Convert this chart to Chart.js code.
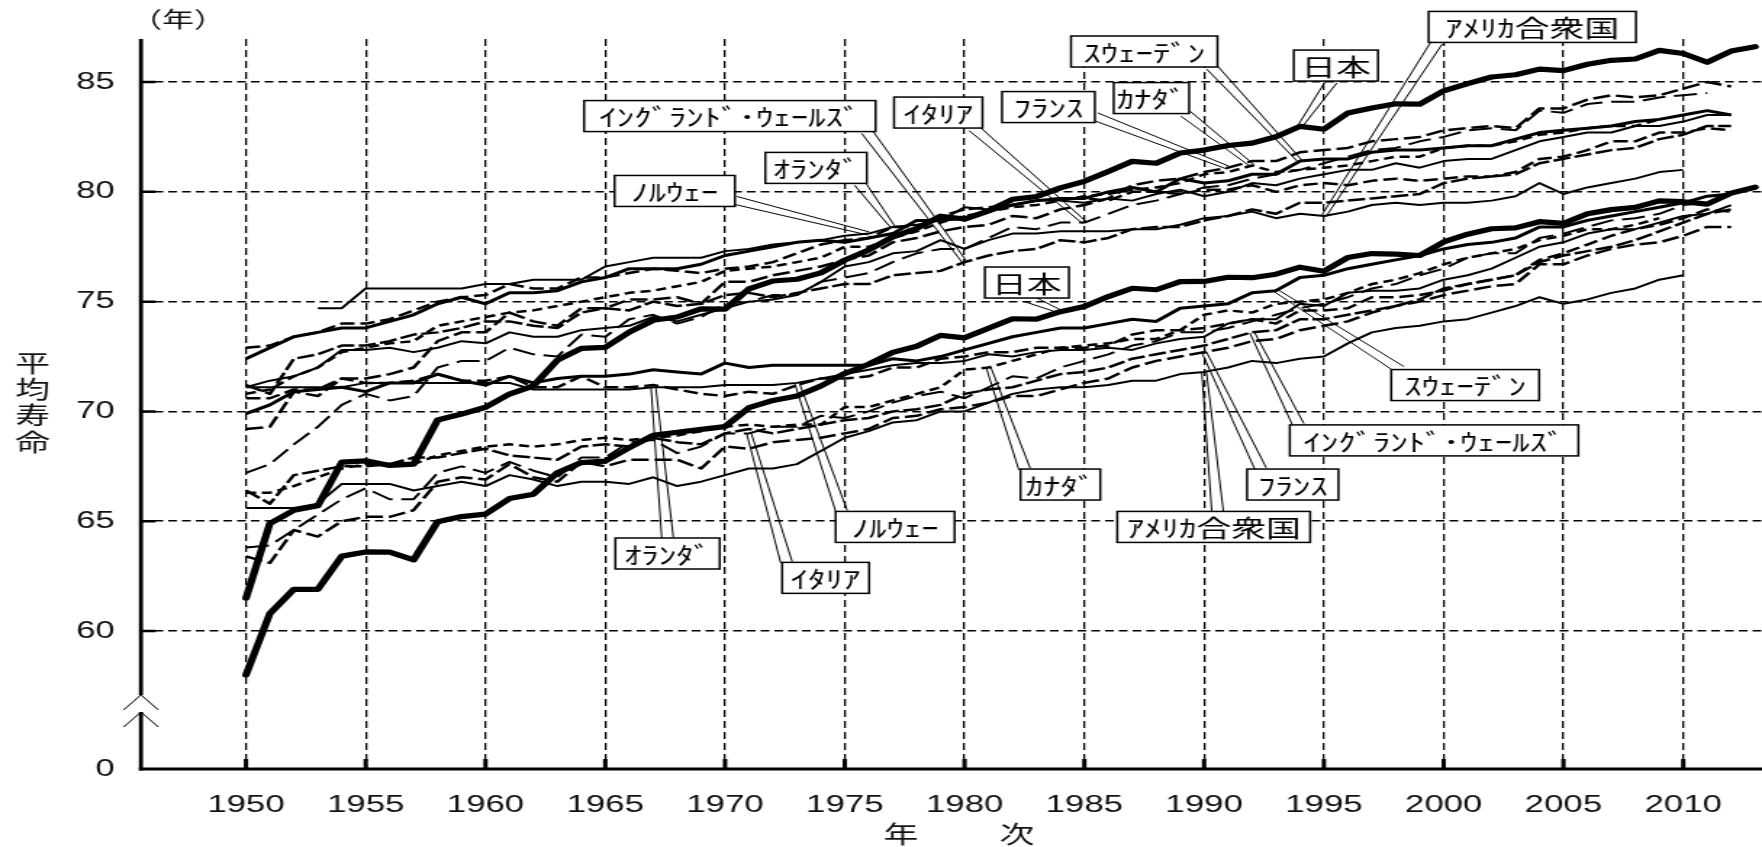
<!DOCTYPE html>
<html lang="ja">
<head>
<meta charset="utf-8">
<title>平均寿命の年次推移</title>
<script src="https://cdn.jsdelivr.net/npm/chart.js@4/dist/chart.umd.min.js"></script>
<style>
  html, body { margin: 0; padding: 0; background: #fff; overflow: hidden; }
  /* the drawing is laid out on a narrower canvas and widened horizontally */
  #wrap { width: 1215px; height: 847px; transform: scaleX(1.45021); transform-origin: 0 0; }
  canvas { display: block; }
</style>
</head>
<body>
<div id="wrap"><canvas id="c" width="1215" height="847" style="width:1215px;height:847px"></canvas></div>
<script>
// ---- categories -------------------------------------------------------------
const years = [
  1950, 1951, 1952, 1953, 1954, 1955, 1956, 1957, 1958, 1959,
  1960, 1961, 1962, 1963, 1964, 1965, 1966, 1967, 1968, 1969,
  1970, 1971, 1972, 1973, 1974, 1975, 1976, 1977, 1978, 1979,
  1980, 1981, 1982, 1983, 1984, 1985, 1986, 1987, 1988, 1989,
  1990, 1991, 1992, 1993, 1994, 1995, 1996, 1997, 1998, 1999,
  2000, 2001, 2002, 2003, 2004, 2005, 2006, 2007, 2008, 2009,
  2010, 2011, 2012, 2013
];

// ---- tick labels ----------------------------------------------------------------
const xTickYears = [1950, 1955, 1960, 1965, 1970, 1975, 1980, 1985, 1990, 1995, 2000, 2005, 2010];
const yTickValues = [60, 65, 70, 75, 80, 85];
const yBaseLabel = '0';

// ---- series values (life expectancy, years) ---------------------------------
const japanMale = [
  58.0, 60.8, 61.9, 61.9, 63.41, 63.60, 63.59, 63.24, 64.98, 65.21,
  65.32, 66.03, 66.23, 67.21, 67.67, 67.74, 68.35, 68.91, 69.05, 69.18,
  69.31, 70.17, 70.50, 70.70, 71.16, 71.73, 72.15, 72.69, 72.97, 73.46,
  73.35, 73.79, 74.22, 74.20, 74.54, 74.78, 75.23, 75.61, 75.54, 75.91,
  75.92, 76.11, 76.09, 76.25, 76.57, 76.38, 77.01, 77.19, 77.16, 77.10,
  77.72, 78.07, 78.32, 78.36, 78.64, 78.56, 79.00, 79.19, 79.29, 79.59,
  79.55, 79.44, 79.94, 80.21
];
const japanFemale = [
  61.5, 64.9, 65.5, 65.7, 67.69, 67.75, 67.54, 67.60, 69.61, 69.88,
  70.19, 70.79, 71.16, 72.34, 72.87, 72.92, 73.61, 74.15, 74.30, 74.67,
  74.66, 75.58, 75.94, 76.02, 76.31, 76.89, 77.35, 77.95, 78.33, 78.89,
  78.76, 79.13, 79.66, 79.78, 80.18, 80.48, 80.93, 81.39, 81.30, 81.77,
  81.90, 82.11, 82.22, 82.51, 82.98, 82.85, 83.59, 83.82, 84.01, 83.99,
  84.60, 84.93, 85.23, 85.33, 85.59, 85.52, 85.81, 85.99, 86.05, 86.44,
  86.30, 85.90, 86.41, 86.61
];
const usaMale = [
  65.6, 65.6, 65.6, 65.8, 66.7, 66.7, 66.7, 66.4, 66.6, 66.8,
  66.6, 67.1, 66.9, 66.6, 66.8, 66.8, 66.7, 67.0, 66.6, 66.8,
  67.1, 67.4, 67.4, 67.6, 68.2, 68.8, 69.1, 69.5, 69.6, 70.0,
  70.0, 70.4, 70.8, 71.0, 71.1, 71.1, 71.2, 71.4, 71.4, 71.7,
  71.8, 72.0, 72.3, 72.2, 72.4, 72.5, 73.1, 73.6, 73.8, 73.9,
  74.1, 74.2, 74.5, 74.8, 75.2, 74.9, 75.1, 75.4, 75.6, 76.0,
  76.2, null, null, null
];
const usaFemale = [
  71.1, 71.4, 71.6, 72.0, 72.8, 72.8, 72.9, 72.7, 72.9, 73.2,
  73.1, 73.6, 73.4, 73.4, 73.7, 73.8, 73.9, 74.3, 74.1, 74.4,
  74.7, 75.0, 75.1, 75.3, 75.9, 76.6, 76.8, 77.2, 77.3, 77.8,
  77.4, 77.8, 78.1, 78.1, 78.2, 78.2, 78.2, 78.3, 78.3, 78.5,
  78.8, 78.9, 79.1, 78.8, 79.0, 78.9, 79.1, 79.4, 79.5, 79.4,
  79.5, 79.5, 79.6, 79.8, 80.4, 79.9, 80.2, 80.4, 80.6, 80.9,
  81.0, null, null, null
];
const swedenMale = [
  69.9, 70.3, 70.9, 71.0, 71.1, 70.9, 71.3, 71.3, 71.7, 71.4,
  71.2, 71.6, 71.3, 71.5, 71.6, 71.6, 71.7, 71.9, 71.8, 71.7,
  72.2, 72.0, 72.1, 72.1, 72.1, 72.1, 72.1, 72.4, 72.3, 72.5,
  72.8, 73.1, 73.4, 73.6, 73.8, 73.8, 74.0, 74.2, 74.1, 74.7,
  74.8, 74.9, 75.4, 75.5, 76.1, 76.2, 76.5, 76.7, 76.9, 77.1,
  77.4, 77.6, 77.7, 77.9, 78.4, 78.4, 78.7, 78.9, 79.1, 79.3,
  79.5, 79.8, 79.9, null
];
const swedenFemale = [
  72.4, 72.9, 73.4, 73.6, 73.8, 73.8, 74.1, 74.4, 74.9, 75.2,
  74.9, 75.4, 75.4, 75.5, 75.9, 76.1, 76.5, 76.5, 76.5, 76.7,
  77.1, 77.3, 77.5, 77.7, 77.8, 77.7, 77.9, 78.1, 78.7, 78.7,
  78.8, 79.1, 79.4, 79.6, 79.7, 79.7, 80.0, 80.2, 80.0, 80.6,
  80.4, 80.5, 80.8, 80.8, 81.4, 81.5, 81.5, 81.8, 81.9, 81.9,
  82.0, 82.1, 82.1, 82.4, 82.7, 82.8, 82.9, 83.0, 83.2, 83.3,
  83.5, 83.7, 83.5, null
];
const canadaMale = [
  66.3, 66.3, 66.6, 67.0, 67.4, 67.6, 67.6, 67.6, 68.0, 68.2,
  68.4, 68.5, 68.4, 68.5, 68.7, 68.8, 68.7, 68.8, 68.9, 69.1,
  69.3, 69.4, 69.3, 69.4, 69.4, 70.2, 70.2, 70.5, 70.8, 71.1,
  71.9, 72.0, 72.3, 72.6, 72.9, 73.0, 73.1, 73.3, 73.3, 73.7,
  74.4, 74.6, 74.5, 74.9, 75.0, 75.1, 75.4, 75.8, 76.0, 76.3,
  76.7, 77.0, 77.2, 77.4, 77.8, 78.0, 78.3, 78.3, 78.5, 78.8,
  null, null, null, null
];
const canadaFemale = [
  70.8, 71.0, 71.6, 72.0, 72.7, 72.9, 73.1, 73.2, 73.9, 74.1,
  74.3, 74.5, 74.6, 74.8, 75.0, 75.2, 75.4, 75.5, 75.7, 75.9,
  76.4, 76.5, 76.6, 76.8, 77.0, 77.5, 77.5, 77.9, 78.2, 78.6,
  78.9, 79.1, 79.3, 79.4, 79.6, 79.8, 79.9, 80.1, 80.2, 80.4,
  80.8, 80.9, 81.2, 80.9, 81.0, 81.1, 81.2, 81.4, 81.6, 81.6,
  82.0, 82.1, 82.1, 82.3, 82.6, 82.7, 82.9, 83.0, 83.0, 83.3,
  null, null, null, null
];
const franceMale = [
  63.4, 63.1, 64.6, 64.3, 65.0, 65.2, 65.2, 65.5, 66.8, 67.0,
  66.9, 67.6, 67.0, 66.8, 67.7, 67.5, 67.8, 67.8, 67.8, 67.4,
  68.4, 68.3, 68.6, 68.7, 68.8, 69.0, 69.2, 69.7, 69.8, 70.1,
  70.2, 70.4, 70.7, 70.7, 71.0, 71.3, 71.5, 72.0, 72.3, 72.5,
  72.7, 72.9, 73.2, 73.3, 73.7, 73.9, 74.1, 74.5, 74.8, 75.0,
  75.3, 75.5, 75.7, 75.8, 76.7, 76.7, 77.1, 77.4, 77.6, 77.7,
  78.0, 78.4, 78.4, null
];
const franceFemale = [
  69.2, 69.3, 70.9, 70.7, 71.5, 71.5, 71.7, 72.0, 73.2, 73.6,
  73.6, 74.5, 74.1, 73.9, 74.7, 74.7, 75.1, 75.1, 75.2, 74.9,
  75.9, 75.9, 76.2, 76.4, 76.6, 76.9, 77.1, 77.7, 77.9, 78.2,
  78.4, 78.5, 78.9, 78.8, 79.2, 79.4, 79.7, 80.3, 80.5, 80.6,
  80.9, 81.1, 81.4, 81.4, 81.8, 81.9, 82.0, 82.3, 82.4, 82.5,
  82.8, 82.9, 83.0, 82.9, 83.8, 83.8, 84.2, 84.4, 84.3, 84.4,
  84.7, 85.0, 84.8, null
];
const italyMale = [
  63.8, 63.9, 64.6, 65.3, 66.0, 66.5, 66.0, 66.0, 67.2, 67.5,
  67.2, 67.7, 67.3, 67.0, 67.9, 67.9, 68.6, 68.7, 68.1, 68.4,
  69.0, 69.0, 69.3, 69.3, 69.8, 69.7, 70.0, 70.4, 70.7, 70.9,
  70.6, 71.1, 71.6, 71.5, 72.0, 72.3, 72.6, 73.0, 73.2, 73.6,
  73.6, 73.8, 74.1, 74.4, 74.7, 74.9, 75.2, 75.6, 75.8, 76.2,
  76.5, 77.0, 77.2, 77.2, 77.9, 78.1, 78.4, 78.7, 78.8, 79.0,
  79.4, 79.5, null, null
];
const italyFemale = [
  67.2, 67.6, 68.5, 69.3, 70.3, 70.8, 70.5, 70.7, 72.0, 72.3,
  72.3, 72.9, 72.6, 72.5, 73.5, 73.4, 74.2, 74.4, 74.0, 74.3,
  74.9, 75.0, 75.3, 75.3, 75.9, 76.1, 76.3, 76.8, 77.2, 77.4,
  77.4, 77.9, 78.4, 78.3, 78.6, 78.6, 79.0, 79.4, 79.6, 79.9,
  80.2, 80.3, 80.6, 80.8, 81.0, 81.3, 81.6, 81.9, 82.0, 82.3,
  82.5, 82.8, 82.9, 82.8, 83.7, 83.6, 84.0, 84.1, 84.1, 84.3,
  84.4, 84.5, null, null
];
const netherlandsMale = [
  70.6, 70.6, 71.0, 71.0, 71.5, 71.3, 71.3, 71.4, 71.7, 71.4,
  71.4, 71.6, 71.1, 71.1, 71.6, 71.1, 71.1, 71.2, 71.0, 70.8,
  70.7, 70.9, 70.8, 71.2, 71.5, 71.5, 71.6, 72.0, 72.0, 72.4,
  72.5, 72.7, 72.7, 72.9, 72.9, 72.9, 73.0, 73.5, 73.7, 73.7,
  73.8, 74.0, 74.2, 74.0, 74.6, 74.6, 74.7, 75.2, 75.2, 75.3,
  75.5, 75.8, 76.0, 76.2, 76.9, 77.2, 77.6, 78.0, 78.3, 78.5,
  78.8, 79.2, 79.1, null
];
const netherlandsFemale = [
  72.9, 73.0, 73.4, 73.6, 74.0, 74.0, 74.2, 74.6, 75.0, 75.2,
  75.3, 75.8, 75.6, 75.6, 76.1, 76.1, 76.3, 76.5, 76.4, 76.3,
  76.5, 76.6, 76.8, 77.2, 77.6, 77.8, 77.9, 78.4, 78.4, 78.9,
  79.2, 79.3, 79.4, 79.6, 79.7, 79.7, 79.6, 80.0, 80.0, 79.9,
  80.1, 80.1, 80.3, 80.0, 80.3, 80.4, 80.3, 80.5, 80.6, 80.5,
  80.6, 80.7, 80.7, 80.9, 81.5, 81.6, 81.9, 82.3, 82.3, 82.7,
  82.7, 82.9, 82.8, null
];
const norwayMale = [
  71.1, 71.1, 71.1, 71.1, 71.1, 71.3, 71.3, 71.3, 71.3, 71.3,
  71.3, 71.3, 71.0, 71.0, 71.0, 71.0, 71.0, 71.1, 71.1, 71.1,
  71.2, 71.2, 71.2, 71.3, 71.5, 71.7, 71.9, 72.1, 72.2, 72.2,
  72.3, 72.6, 72.5, 72.7, 72.8, 72.8, 72.9, 72.8, 73.1, 73.3,
  73.4, 74.0, 74.2, 74.2, 74.9, 74.8, 75.4, 75.5, 75.5, 75.6,
  76.0, 76.2, 76.5, 77.0, 77.5, 77.7, 78.1, 78.3, 78.3, 78.6,
  78.9, 79.0, 79.4, null
];
const norwayFemale = [
  null, null, null, 74.7, 74.7, 75.6, 75.6, 75.6, 75.6, 75.6,
  75.8, 75.8, 76.0, 76.0, 76.0, 76.6, 76.8, 77.0, 77.0, 77.0,
  77.3, 77.4, 77.6, 77.7, 77.8, 78.0, 78.1, 78.4, 78.5, 78.7,
  79.3, 79.2, 79.4, 79.6, 79.6, 79.5, 79.7, 79.6, 79.9, 80.1,
  79.8, 80.0, 80.4, 80.3, 80.6, 80.8, 81.0, 81.0, 81.3, 81.1,
  81.4, 81.5, 81.5, 81.9, 82.3, 82.5, 82.7, 82.7, 83.0, 83.0,
  83.2, 83.5, 83.5, null
];
const englandWalesMale = [
  66.4, 65.8, 67.1, 67.3, 67.5, 67.5, 67.6, 67.9, 67.9, 68.1,
  68.3, 68.0, 67.9, 67.8, 68.4, 68.5, 68.4, 68.8, 68.6, 68.5,
  69.0, 69.2, 69.0, 69.2, 69.4, 69.6, 69.7, 70.0, 70.1, 70.3,
  70.8, 71.0, 71.1, 71.4, 71.7, 71.8, 72.0, 72.4, 72.6, 72.8,
  73.0, 73.3, 73.6, 73.7, 74.2, 74.2, 74.4, 74.6, 74.8, 75.1,
  75.6, 75.8, 76.0, 76.2, 76.8, 77.1, 77.3, 77.5, 77.8, 78.2,
  78.6, 79.0, 79.2, null
];
const englandWalesFemale = [
  71.2, 70.8, 72.4, 72.6, 73.0, 73.0, 73.2, 73.5, 73.6, 73.8,
  74.1, 74.1, 73.9, 73.8, 74.5, 74.7, 74.6, 75.0, 74.8, 74.9,
  75.3, 75.4, 75.2, 75.4, 75.6, 75.8, 75.8, 76.2, 76.3, 76.4,
  76.8, 77.1, 77.3, 77.4, 77.8, 77.7, 77.9, 78.3, 78.4, 78.4,
  78.7, 78.9, 79.2, 79.0, 79.5, 79.5, 79.6, 79.7, 79.8, 79.9,
  80.4, 80.6, 80.7, 80.8, 81.3, 81.5, 81.7, 81.9, 82.0, 82.4,
  82.6, 83.0, 83.0, null
];

// ---- countries and their series ------------------------------------------------
const countries = [
  { key: 'england',     name: 'ｲﾝｸﾞﾗﾝﾄﾞ･ｳｪｰﾙｽﾞ', male: englandWalesMale,  female: englandWalesFemale },
  { key: 'italy',       name: 'ｲﾀﾘｱ',           male: italyMale,         female: italyFemale },
  { key: 'canada',      name: 'ｶﾅﾀﾞ',           male: canadaMale,        female: canadaFemale },
  { key: 'france',      name: 'ﾌﾗﾝｽ',           male: franceMale,        female: franceFemale },
  { key: 'netherlands', name: 'ｵﾗﾝﾀﾞ',          male: netherlandsMale,   female: netherlandsFemale },
  { key: 'norway',      name: 'ﾉﾙｳｪｰ',          male: norwayMale,        female: norwayFemale },
  { key: 'usa',         name: 'ｱﾒﾘｶ合衆国',      male: usaMale,           female: usaFemale },
  { key: 'sweden',      name: 'ｽｳｪｰﾃﾞﾝ',        male: swedenMale,        female: swedenFemale },
  { key: 'japan',       name: '日本',           male: japanMale,         female: japanFemale }
];

// ---- line styles per country ---------------------------------------------------
const lineStyles = {
  japan:       { width: 5.2, dash: [] },
  sweden:      { width: 3,   dash: [] },
  usa:         { width: 2,   dash: [] },
  norway:      { width: 2,   dash: [] },
  netherlands: { width: 2.5, dash: [10, 4] },
  france:      { width: 2.5, dash: [12, 4] },
  italy:       { width: 2,   dash: [16, 6] },
  canada:      { width: 2.5, dash: [7, 4] },
  england:     { width: 2.5, dash: [12, 3] }
};

// ---- callout labels: box centre in axis units, target = series point -----------
const callouts = [
  { text: 'ﾉﾙｳｪｰ',          country: 'norway',      sex: 'female', year: 1976, at: [1967.9, 80.04], w: 83,  anchor: [1, 0.8] },
  { text: 'ｵﾗﾝﾀﾞ',          country: 'netherlands', sex: 'female', year: 1977, at: [1973.8, 81.09], w: 70,  anchor: [0.93, 1] },
  { text: 'ｲﾝｸﾞﾗﾝﾄﾞ･ｳｪｰﾙｽﾞ', country: 'england',     sex: 'female', year: 1980, at: [1970.2, 83.45], w: 201, anchor: [0.97, 1] },
  { text: 'ｲﾀﾘｱ',           country: 'italy',       sex: 'female', year: 1985, at: [1978.9, 83.61], w: 61,  anchor: [0.9, 1] },
  { text: 'ﾌﾗﾝｽ',           country: 'france',      sex: 'female', year: 1991, at: [1983.5, 83.86], w: 64,  anchor: [1, 0.8] },
  { text: 'ｶﾅﾀﾞ',           country: 'canada',      sex: 'female', year: 1992, at: [1987.8, 84.27], w: 52,  anchor: [0.95, 1] },
  { text: 'ｽｳｪｰﾃﾞﾝ',        country: 'sweden',      sex: 'female', year: 1994, at: [1987.5, 86.39], w: 101, anchor: [0.96, 1] },
  { text: '日本',           country: 'japan',       sex: 'female', year: 1994, at: [1995.5, 85.75], w: 58,  anchor: [0.45, 1] },
  { text: 'ｱﾒﾘｶ合衆国',      country: 'usa',         sex: 'female', year: 1995, at: [2003.7, 87.51], w: 143, anchor: [0.04, 1] },
  { text: '日本',           country: 'japan',       sex: 'male',   year: 1984, at: [1982.6, 75.87], w: 58,  anchor: [0.5, 1] },
  { text: 'ｽｳｪｰﾃﾞﾝ',        country: 'sweden',      sex: 'male',   year: 1993, at: [2000.9, 71.20], w: 102, anchor: [0.06, 0] },
  { text: 'ｲﾝｸﾞﾗﾝﾄﾞ･ｳｪｰﾙｽﾞ', country: 'england',     sex: 'male',   year: 1992, at: [1999.6, 68.68], w: 199, anchor: [0.03, 0] },
  { text: 'ﾌﾗﾝｽ',           country: 'france',      sex: 'male',   year: 1990, at: [1993.7, 66.67], w: 63,  anchor: [0.15, 0] },
  { text: 'ｱﾒﾘｶ合衆国',      country: 'usa',         sex: 'male',   year: 1990, at: [1990.4, 64.74], w: 133, anchor: [0.52, 0] },
  { text: 'ｶﾅﾀﾞ',           country: 'canada',      sex: 'male',   year: 1981, at: [1984.0, 66.67], w: 55,  anchor: [0.05, 0] },
  { text: 'ﾉﾙｳｪｰ',          country: 'norway',      sex: 'male',   year: 1973, at: [1977.1, 64.74], w: 82,  anchor: [0.05, 0] },
  { text: 'ｲﾀﾘｱ',           country: 'italy',       sex: 'male',   year: 1971, at: [1974.2, 62.42], w: 60,  anchor: [0.05, 0] },
  { text: 'ｵﾗﾝﾀﾞ',          country: 'netherlands', sex: 'male',   year: 1967, at: [1967.6, 63.53], w: 72,  anchor: [0.5, 0] }
];

// ---- axis extents (the y axis is broken between 0 and 60) ------------------------
const X_MIN = 1945.617, X_MAX = 2013.29;
const Y_BASE = 53.716;   // value placed at the "0" of the broken axis
const Y_TOP = 86.96;

const TICK_FONT = { family: '"Liberation Sans", Arial, sans-serif', size: 24 };
const JP_FONT = '"Noto Sans CJK JP", "Noto Sans", sans-serif';

function toPoints(values) {
  return years.map((yr, i) => ({ x: yr, y: values[i] }));
}

const datasets = [];
countries.forEach(c => {
  const st = lineStyles[c.key];
  ['male', 'female'].forEach(sex => {
    datasets.push({
      label: c.name + (sex === 'male' ? '（男）' : '（女）'),
      data: toPoints(c[sex]),
      borderColor: '#000',
      borderWidth: st.width,
      borderDash: st.dash,
      borderJoinStyle: 'round',
      borderCapStyle: c.key === 'japan' ? 'round' : 'butt',
      pointRadius: 0,
      fill: false,
      tension: 0,
      spanGaps: false
    });
  });
});

// axes, inner tick marks, axis break and titles
const framePlugin = {
  id: 'frame',
  afterDraw(chart) {
    const { ctx, chartArea: a, scales: { x, y } } = chart;
    ctx.save();
    ctx.strokeStyle = '#000';
    ctx.setLineDash([]);
    const breakTop = y.getPixelForValue(57.09);
    const breakBot = y.getPixelForValue(56.31);
    // left axis, interrupted at the break
    ctx.lineWidth = 2.8;
    ctx.beginPath();
    ctx.moveTo(a.left, a.top); ctx.lineTo(a.left, breakTop);
    ctx.moveTo(a.left, breakBot); ctx.lineTo(a.left, a.bottom + 1.5);
    ctx.stroke();
    // break marks
    ctx.lineWidth = 1;
    ctx.beginPath();
    ctx.moveTo(a.left - 12, breakTop + 15); ctx.lineTo(a.left, breakTop); ctx.lineTo(a.left + 12, breakTop + 15);
    ctx.moveTo(a.left - 12, breakBot + 15); ctx.lineTo(a.left, breakBot); ctx.lineTo(a.left + 12, breakBot + 15);
    ctx.stroke();
    // bottom axis
    ctx.lineWidth = 3;
    ctx.beginPath();
    ctx.moveTo(a.left - 1.4, a.bottom); ctx.lineTo(a.right, a.bottom);
    ctx.stroke();
    // inner tick marks
    ctx.lineWidth = 2.5;
    ctx.beginPath();
    yTickValues.forEach(v => {
      const py = y.getPixelForValue(v);
      ctx.moveTo(a.left, py); ctx.lineTo(a.left + 10, py);
    });
    ctx.stroke();
    ctx.lineWidth = 3;
    ctx.beginPath();
    xTickYears.forEach(v => {
      const px = x.getPixelForValue(v);
      ctx.moveTo(px, a.bottom); ctx.lineTo(px, a.bottom - 10);
    });
    ctx.stroke();
    // titles
    ctx.fillStyle = '#111';
    ctx.textAlign = 'center';
    ctx.textBaseline = 'middle';
    ctx.font = '22px ' + JP_FONT;
    ctx.fillText('（年）', 122.7, 19);
    ctx.font = '24px ' + JP_FONT;
    ['平', '均', '寿', '命'].forEach((ch, i) => ctx.fillText(ch, 22.4, 362.5 + i * 26.4));
    ctx.fillText('年', 621.3, 834);
    ctx.fillText('次', 701.3, 834);
    ctx.restore();
  }
};

// boxed country labels with double-line pointers
const calloutPlugin = {
  id: 'callouts',
  afterDatasetsDraw(chart) {
    const { ctx, scales: { x, y } } = chart;
    const byKey = {};
    countries.forEach(c => { byKey[c.key] = c; });
    ctx.save();
    ctx.setLineDash([]);
    callouts.forEach(c => {
      const vals = byKey[c.country][c.sex];
      const v = vals[years.indexOf(c.year)];
      const tx = x.getPixelForValue(c.year), ty = y.getPixelForValue(v);
      const cx = x.getPixelForValue(c.at[0]), cy = y.getPixelForValue(c.at[1]);
      const w = c.w, h = 31;
      const L = cx - w / 2, T = cy - h / 2;
      const sx = L + c.anchor[0] * w, sy = T + c.anchor[1] * h;
      const dx = tx - sx, dy = ty - sy, len = Math.hypot(dx, dy) || 1;
      const nx = -dy / len, ny = dx / len;
      const b = 4, t = 1.6;
      ctx.strokeStyle = '#000';
      ctx.lineWidth = 1;
      ctx.beginPath();
      ctx.moveTo(sx + nx * b, sy + ny * b); ctx.lineTo(tx + nx * t, ty + ny * t);
      ctx.moveTo(sx - nx * b, sy - ny * b); ctx.lineTo(tx - nx * t, ty - ny * t);
      ctx.stroke();
      ctx.fillStyle = '#fff';
      ctx.fillRect(L, T, w, h);
      ctx.lineWidth = 1.5;
      ctx.strokeRect(L, T, w, h);
      ctx.fillStyle = '#000';
      ctx.font = '24px ' + JP_FONT;
      ctx.textAlign = 'center';
      ctx.textBaseline = 'middle';
      ctx.fillText(c.text, cx, cy + 1, w - 4);
    });
    ctx.restore();
  }
};

new Chart(document.getElementById('c'), {
  type: 'line',
  data: { datasets },
  options: {
    responsive: false,
    animation: false,
    devicePixelRatio: 1,
    layout: { padding: { top: 39, right: 0, bottom: 0, left: 0 } },
    plugins: { legend: { display: false }, tooltip: { enabled: false } },
    scales: {
      x: {
        type: 'linear',
        min: X_MIN,
        max: X_MAX,
        afterBuildTicks: s => { s.ticks = xTickYears.map(v => ({ value: v })); },
        afterFit: s => { s.height = 78; },
        grid: { color: '#000', lineWidth: 1.3, drawTicks: false },
        border: { display: false, dash: [7, 4] },
        ticks: {
          font: TICK_FONT, color: '#111', padding: 22,
          maxRotation: 0, autoSkip: false,
          callback: v => String(v)
        }
      },
      y: {
        type: 'linear',
        min: Y_BASE,
        max: Y_TOP,
        afterBuildTicks: s => { s.ticks = [Y_BASE].concat(yTickValues).map(v => ({ value: v })); },
        afterFit: s => { s.width = 97.2; },
        grid: {
          color: c => (c.tick && c.tick.value === Y_BASE) ? 'rgba(0,0,0,0)' : '#000',
          lineWidth: 1.5,
          drawTicks: false
        },
        border: { display: false, dash: [6, 3.5] },
        ticks: {
          font: TICK_FONT, color: '#111', padding: 18,
          callback: v => (v === Y_BASE ? yBaseLabel : String(v))
        }
      }
    }
  },
  plugins: [calloutPlugin, framePlugin]
});
</script>
</body>
</html>
